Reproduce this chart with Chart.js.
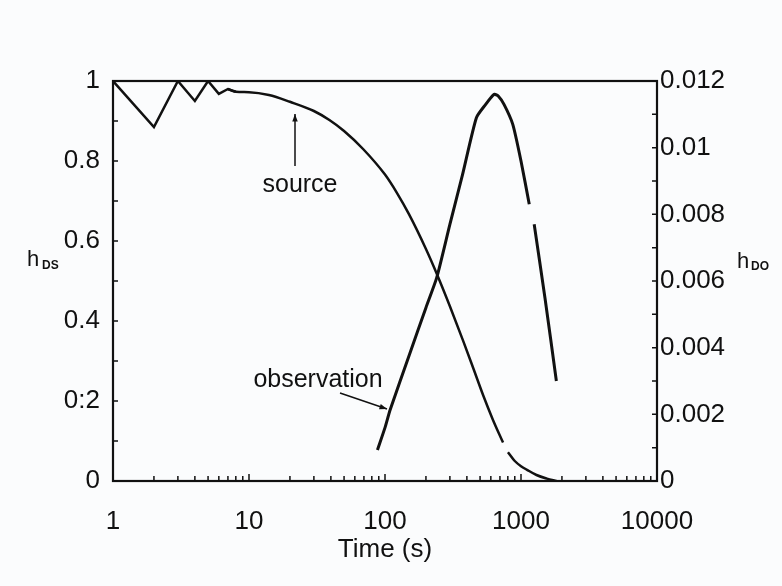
<!DOCTYPE html>
<html>
<head>
<meta charset="utf-8">
<script src="https://cdn.jsdelivr.net/npm/chart.js@4"></script>
<style>
  html, body { margin: 0; padding: 0; background: #fbfcfd; }
  #wrap { width: 782px; height: 586px; }
</style>
</head>
<body>
<div id="wrap"><canvas id="chart" width="782" height="586"></canvas></div>
<script>
// source curve, left axis (h_DS)
const sourceTime = [1, 2, 3, 4, 5, 6, 7, 8, 10, 14, 20, 30, 39, 50, 69, 100, 122, 150, 200, 241, 300, 375, 450, 526, 620, 738, 770, 802, 900, 1000, 1107, 1300, 1551, 1823];
const sourceH = [1, 0.885, 1, 0.95, 1, 0.968, 0.98, 0.973, 0.972, 0.965, 0.948, 0.925, 0.9025, 0.875, 0.83, 0.766, 0.721, 0.667, 0.58, 0.517, 0.437, 0.351, 0.278, 0.215, 0.154, 0.096, null, 0.072, 0.05, 0.037, 0.028, 0.015, 0.006, 0];

// observation curve, right axis (h_DO)
const obsTime = [88, 100, 109, 150, 200, 240, 300, 372, 470, 550, 600, 640, 680, 750, 870, 1000, 1150, 1200, 1250, 1500, 1820];
const obsH = [0.00093, 0.0016, 0.00213, 0.00375, 0.0052, 0.0061, 0.0077, 0.0092, 0.0109, 0.0113, 0.0115, 0.0116, 0.01155, 0.0113, 0.0107, 0.0096, 0.0083, null, 0.0077, 0.0055, 0.003];

const xTicks = [1, 10, 100, 1000, 10000];
const leftTicks = [0, 0.2, 0.4, 0.6, 0.8, 1];
const rightTicks = [0, 0.002, 0.004, 0.006, 0.008, 0.01, 0.012];

const FONT = '"Liberation Sans", Arial, sans-serif';
const INK = '#111';

const toPts = (xs, ys) => xs.map((x, i) => ({ x: x, y: ys[i] }));
const sourcePts = toPts(sourceTime, sourceH);
const ZIG = 7; // early jagged part (t <= 8) drawn with straight segments

// frame, inward ticks, titles and the two arrow notes
const decor = {
    id: 'decor',
    afterDraw(chart) {
        const { ctx, chartArea: a, scales } = chart;
        const x = scales.x, yl = scales.y, yr = scales.y2;
        ctx.save();
        ctx.strokeStyle = INK;
        ctx.lineWidth = 2.2;
        ctx.strokeRect(a.left, a.top, a.right - a.left, a.bottom - a.top);

        ctx.lineWidth = 1.5;
        ctx.beginPath();
        for (let d = 1; d < 10000; d *= 10) {
            for (let k = 1; k <= 10; k++) {
                const px = x.getPixelForValue(d * k);
                const len = (k === 1 || k === 10) ? 7 : 5;
                ctx.moveTo(px, a.bottom);
                ctx.lineTo(px, a.bottom - len);
            }
        }
        for (let v = 0; v <= 10; v++) {
            const py = yl.getPixelForValue(v / 10);
            ctx.moveTo(a.left, py);
            ctx.lineTo(a.left + 5, py);
        }
        for (let v = 0; v <= 12; v++) {
            const py = yr.getPixelForValue(v / 1000);
            ctx.moveTo(a.right, py);
            ctx.lineTo(a.right - 5, py);
        }
        ctx.stroke();

        ctx.fillStyle = INK;
        ctx.textBaseline = 'alphabetic';
        ctx.textAlign = 'center';
        ctx.font = '26px ' + FONT;
        ctx.fillText('Time (s)', (a.left + a.right) / 2, 557);

        ctx.textAlign = 'left';
        ctx.font = '22px ' + FONT;
        ctx.fillText('h', 27, 266);
        ctx.fillText('h', 737, 268);
        ctx.font = 'bold 12px ' + FONT;
        ctx.fillText('DS', 42, 269);
        ctx.fillText('DO', 751, 270);

        ctx.font = '25px ' + FONT;
        ctx.textAlign = 'center';
        ctx.fillText('source', 300, 192);
        ctx.fillText('observation', 318, 387);

        const arrow = (x0, y0, x1, y1) => {
            const ang = Math.atan2(y1 - y0, x1 - x0);
            ctx.beginPath();
            ctx.lineWidth = 1.5;
            ctx.moveTo(x0, y0);
            ctx.lineTo(x1, y1);
            ctx.stroke();
            ctx.beginPath();
            ctx.moveTo(x1, y1);
            ctx.lineTo(x1 - 8 * Math.cos(ang - 0.35), y1 - 8 * Math.sin(ang - 0.35));
            ctx.lineTo(x1 - 8 * Math.cos(ang + 0.35), y1 - 8 * Math.sin(ang + 0.35));
            ctx.closePath();
            ctx.fill();
        };
        arrow(295, 166, 295, 114);
        arrow(340, 393, 387, 409);
        ctx.restore();
    }
};

const lineStyle = { borderColor: INK, pointRadius: 0, spanGaps: false };

new Chart(document.getElementById('chart'), {
    type: 'line',
    data: {
        datasets: [{
            ...lineStyle,
            label: 'source',
            data: sourcePts.slice(0, ZIG + 1),
            yAxisID: 'y',
            borderWidth: 2.5,
            tension: 0
        }, {
            ...lineStyle,
            label: 'source',
            data: sourcePts.slice(ZIG - 1),
            yAxisID: 'y',
            borderWidth: 2.5,
            cubicInterpolationMode: 'monotone'
        }, {
            ...lineStyle,
            label: 'observation',
            data: toPts(obsTime, obsH),
            yAxisID: 'y2',
            borderWidth: 3,
            tension: 0.2
        }]
    },
    plugins: [decor],
    options: {
        responsive: false,
        animation: false,
        layout: { padding: { top: 81, left: 0, right: 0, bottom: 0 } },
        plugins: { legend: { display: false }, tooltip: { enabled: false } },
        scales: {
            x: {
                type: 'logarithmic',
                min: 1, max: 10000,
                afterBuildTicks: s => { s.ticks = xTicks.map(v => ({ value: v })); },
                afterFit: s => { s.height = 105; },
                grid: { display: false, drawTicks: false },
                border: { display: false },
                ticks: {
                    color: INK, padding: 25, maxRotation: 0,
                    font: { family: FONT, size: 26 },
                    callback: v => String(v)
                }
            },
            y: {
                position: 'left',
                min: 0, max: 1,
                afterBuildTicks: s => { s.ticks = leftTicks.map(v => ({ value: v })); },
                afterFit: s => { s.width = 113; },
                grid: { display: false, drawTicks: false },
                border: { display: false },
                ticks: {
                    color: INK, padding: 13,
                    font: { family: FONT, size: 26 },
                    callback: v => (v === 0.2 ? '0:2' : String(v))
                }
            },
            y2: {
                position: 'right',
                min: 0, max: 0.012,
                afterBuildTicks: s => { s.ticks = rightTicks.map(v => ({ value: v })); },
                afterFit: s => { s.width = 125; },
                grid: { display: false, drawTicks: false },
                border: { display: false },
                ticks: {
                    color: INK, padding: 3,
                    font: { family: FONT, size: 26 },
                    callback: v => String(+v.toFixed(3))
                }
            }
        }
    }
});
</script>
</body>
</html>
